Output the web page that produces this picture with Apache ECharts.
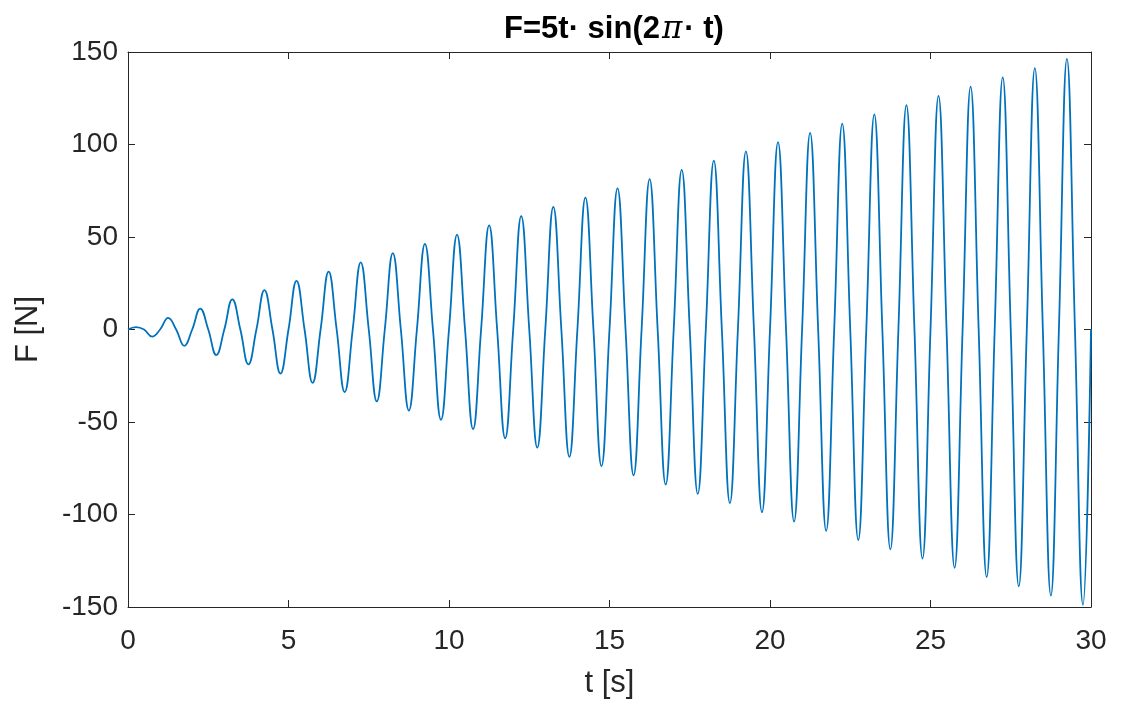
<!DOCTYPE html>
<html>
<head>
<meta charset="utf-8">
<script src="https://cdn.jsdelivr.net/npm/echarts@6/dist/echarts.min.js"></script>
<style>
html,body{margin:0;padding:0;background:#fff;}
#chart{width:1123px;height:704px;}
</style>
</head>
<body>
<div id="chart"></div>
<script>
// Values
const cycleStarts = [0,1,2,3,4,5,6,7,8,9,10,11,12,13,14,15,16,17,18,19,20,21,22,23,24,25,26,27,28,29];
const peakValues = [1.3,6.3,11.3,16.3,21.3,26.3,31.3,36.3,41.3,46.3,51.3,56.3,61.3,66.3,71.3,76.3,81.3,86.3,91.3,96.3,101.3,106.3,111.3,116.3,121.3,126.3,131.3,136.3,141.3,146.3];
const troughValues = [-3.8,-8.8,-13.8,-18.8,-23.8,-28.8,-33.8,-38.8,-43.8,-48.8,-53.8,-58.8,-63.8,-68.8,-73.8,-78.8,-83.8,-88.8,-93.8,-98.8,-103.8,-108.8,-113.8,-118.8,-123.8,-128.8,-133.8,-138.8,-143.8,-148.8];
const endTime = 30;
const xTicks = [0,5,10,15,20,25,30];
const yTicks = [-150,-100,-50,0,50,100,150];

const points = [];
cycleStarts.forEach((t0, i) => {
  points.push([t0, 0]);
  points.push([t0 + 0.25, peakValues[i]]);
  points.push([t0 + 0.5, 0]);
  points.push([t0 + 0.75, troughValues[i]]);
});
points.push([endTime, 0]);

const axisColor = '#262626';
const font = 'Liberation Sans, Arial, Helvetica, sans-serif';

const chart = echarts.init(document.getElementById('chart'), null, {renderer: 'canvas'});
const baseX = {
  type: 'value', min: xTicks[0], max: xTicks[xTicks.length-1], interval: 5,
  axisLine: {show: true, onZero: false, lineStyle: {color: axisColor, width: 1}},
  axisTick: {show: true, inside: true, length: 7, lineStyle: {color: axisColor}},
  splitLine: {show: false}
};
const baseY = {
  type: 'value', min: yTicks[0], max: yTicks[yTicks.length-1], interval: 50,
  axisLine: {show: true, onZero: false, lineStyle: {color: axisColor, width: 1}},
  axisTick: {show: true, inside: true, length: 7, lineStyle: {color: axisColor}},
  splitLine: {show: false}
};
chart.setOption({
  animation: false,
  backgroundColor: '#ffffff',
  title: {
    text: '{a|F=5t· sin(2}{p|π}{a|· t)}',
    left: 609, top: 9, textAlign: 'center',
    textStyle: {
      rich: {
        a: {fontFamily: font, fontWeight: 'bold', fontSize: 31, color: '#000'},
        p: {fontFamily: 'DejaVu Serif, serif', fontStyle: 'italic', fontWeight: 'normal', fontSize: 31, color: '#000', padding: [0, 2, 0, 2]}
      }
    }
  },
  grid: {left: 128, right: 32, top: 52, bottom: 91, containLabel: false},
  xAxis: [
    Object.assign({}, baseX, {
      position: 'bottom',
      name: 't [s]', nameLocation: 'middle', nameGap: 61,
      nameTextStyle: {fontFamily: font, fontSize: 31, color: axisColor},
      axisLabel: {show: true, margin: 20, fontFamily: font, fontSize: 28, color: axisColor}
    }),
    Object.assign({}, baseX, {position: 'top', axisLabel: {show: false}})
  ],
  yAxis: [
    Object.assign({}, baseY, {
      position: 'left',
      name: 'F [N]', nameLocation: 'middle', nameGap: 84,
      nameTextStyle: {fontFamily: font, fontSize: 31, color: axisColor},
      axisLabel: {show: true, margin: 10, fontFamily: font, fontSize: 28, color: axisColor}
    }),
    Object.assign({}, baseY, {position: 'right', axisLabel: {show: false}})
  ],
  series: [{
    type: 'line',
    data: points,
    xAxisIndex: 0, yAxisIndex: 0,
    smooth: 0.45,
    showSymbol: false,
    symbol: 'none',
    clip: true,
    lineStyle: {color: '#0072BD', width: 1.8}
  }]
});
</script>
</body>
</html>
